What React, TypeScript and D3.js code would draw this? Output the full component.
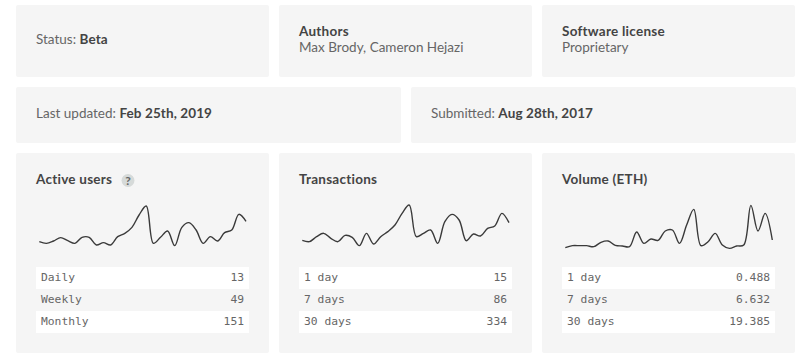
import React from "react";
import * as d3 from "d3";

const activeUsers = [25,20,27,37,28,20,38,38,15,22,15,40,50,68,105,132,20,38,57,13,68,82,60,20,40,27,52,60,107,86];
const transactions = [29,25,40,50,35,25,44,38,13,50,18,40,55,75,110,135,40,50,60,20,85,107,90,28,48,42,65,72,110,82];
const volumeEth = [7,13,13,13,10,23,27,14,12,10,54,20,33,29,57,60,20,75,122,13,25,50,15,5,12,15,134,57,110,30];

const activeLabels = ["Daily", "Weekly", "Monthly"];
const activeCounts = ["13", "49", "151"];
const txLabels = ["1 day", "7 days", "30 days"];
const txCounts = ["15", "86", "334"];
const volLabels = ["1 day", "7 days", "30 days"];
const volCounts = ["0.488", "6.632", "19.385"];

const SANS = "Lato, 'Open Sans', sans-serif";
const MONO = "'DejaVu Sans Mono', monospace";
const PANEL = "#f5f5f5";
const DARK = "#444444";
const GREY = "#666666";

function Panel({ x, y, w, h }: { x: number; y: number; w: number; h: number }) {
  return <rect x={x} y={y} width={w} height={h} rx={2} fill={PANEL} />;
}

function Inline({ x, y, label, value }: { x: number; y: number; label: string; value: string }) {
  return (
    <text x={x} y={y} fontFamily={SANS} fontSize={13.5} fill={GREY}>
      {label} <tspan fontWeight={700} fill={DARK} letterSpacing={0.1}>{value}</tspan>
    </text>
  );
}

function Stacked({ x, title, body }: { x: number; title: string; body: string }) {
  return (
    <g fontFamily={SANS} fontSize={13.5}>
      <text x={x} y={36} fontWeight={700} fill={DARK} letterSpacing={0.25}>{title}</text>
      <text x={x} y={52} fill={GREY}>{body}</text>
    </g>
  );
}

function StatCard({ x, title, series, labels, counts, lineX0, lineX1 }: {
  x: number; title: string; series: number[]; labels: string[]; counts: string[]; lineX0: number; lineX1: number;
}) {
  const xs = d3.scaleLinear().domain([0, series.length - 1]).range([lineX0, lineX1]);
  const ys = d3.scaleLinear().domain([0, 150]).range([250, 200]);
  const path = d3.line<number>().x((_, i) => xs(i)).y((d) => ys(d)).curve(d3.curveCatmullRom.alpha(0.5))(series) ?? "";
  const rowY = d3.scaleBand<number>().domain([0, 1, 2]).range([267, 333]);
  return (
    <g>
      <Panel x={x} y={153} w={253} h={200} />
      <text x={x + 20} y={184} fontFamily={SANS} fontSize={13.5} fontWeight={700} fill={DARK} letterSpacing={0.25}>{title}</text>
      <path d={path} fill="none" stroke="#3a3a3a" strokeWidth={1.4} />
      {labels.map((l, i) => (
        <g key={l}>
          {i % 2 === 0 && <rect x={x + 20} y={rowY(i)} width={213} height={rowY.bandwidth()} fill="#fff" />}
          <text x={x + 25} y={(rowY(i) ?? 0) + 14} fontFamily={MONO} fontSize={11.3} fill={GREY}>{l}</text>
          <text x={x + 228} y={(rowY(i) ?? 0) + 14} fontFamily={MONO} fontSize={11.3} fill={GREY} textAnchor="end">{counts[i]}</text>
        </g>
      ))}
    </g>
  );
}

export default function App() {
  return (
    <svg width={810} height={361} style={{ position: "absolute", left: 0, top: 0, background: "#fff" }}>
      <Panel x={16} y={5} w={253} h={72} />
      <Panel x={279} y={5} w={253} h={72} />
      <Panel x={542} y={5} w={253} h={72} />
      <Panel x={16} y={87} w={385} h={56} />
      <Panel x={411} y={87} w={385} h={56} />
      <Inline x={36} y={44} label="Status:" value="Beta" />
      <Stacked x={299} title="Authors" body="Max Brody, Cameron Hejazi" />
      <Stacked x={562} title="Software license" body="Proprietary" />
      <Inline x={36} y={118} label="Last updated:" value="Feb 25th, 2019" />
      <Inline x={431} y={118} label="Submitted:" value="Aug 28th, 2017" />
      <StatCard x={16} title="Active users" series={activeUsers} labels={activeLabels} counts={activeCounts} lineX0={39.3} lineX1={246} />
      <circle cx={128} cy={180.5} r={6.5} fill="#d6dad9" />
      <text x={128} y={185} textAnchor="middle" fontFamily={SANS} fontSize={12} fontWeight={700} fill={GREY}>?</text>
      <StatCard x={279} title="Transactions" series={transactions} labels={txLabels} counts={txCounts} lineX0={302.3} lineX1={509} />
      <StatCard x={542} title="Volume (ETH)" series={volumeEth} labels={volLabels} counts={volCounts} lineX0={565.3} lineX1={772.3} />
    </svg>
  );
}
